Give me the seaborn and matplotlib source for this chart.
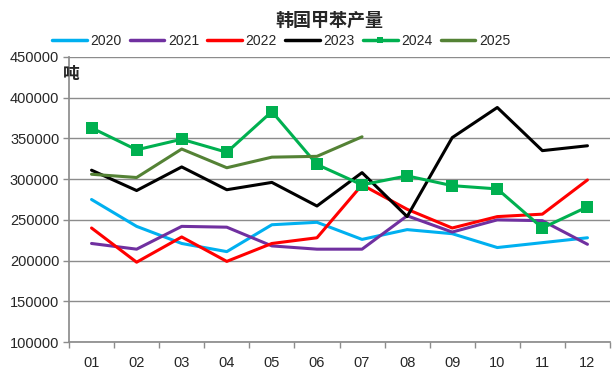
import pandas as pd
import matplotlib.pyplot as plt
import seaborn as sns
from matplotlib.lines import Line2D

months = ["01", "02", "03", "04", "05", "06", "07", "08", "09", "10", "11", "12"]
y2020 = [275000, 242000, 221000, 211000, 244000, 247000, 226000, 238000, 233000, 216000, 222000, 228000]
y2021 = [221000, 214000, 242000, 241000, 218000, 214000, 214000, 255000, 235000, 250000, 249000, 220000]
y2022 = [240000, 198000, 229000, 199000, 221000, 228000, 293000, 263000, 240000, 254000, 257000, 299000]
y2023 = [311000, 286000, 315000, 287000, 296000, 267000, 308000, 254000, 351000, 388000, 335000, 341000]
y2024 = [363000, 336000, 349000, 333000, 383000, 318000, 293000, 304000, 292000, 288000, 240000, 266000]
y2025 = [306000, 302000, 337000, 314000, 327000, 328000, 352000]

series = {"2020": y2020, "2021": y2021, "2022": y2022, "2023": y2023, "2024": y2024, "2025": y2025}
colors = {"2020": "#00B0F0", "2021": "#7030A0", "2022": "#FF0000",
          "2023": "#000000", "2024": "#00B050", "2025": "#548235"}

rows = []
for year, vals in series.items():
    for i, v in enumerate(vals):
        rows.append({"year": year, "pos": i, "value": v})
df = pd.DataFrame(rows)

sns.set_theme(style="white")
plt.rcParams['font.family'] = ['Liberation Sans', 'Noto Sans CJK SC', 'DejaVu Sans']

fig = plt.figure(figsize=(6.16, 3.8), dpi=100)
ax = fig.add_axes([69 / 616, 1 - 342 / 380, 541 / 616, 285 / 380])

for year in series:
    d = df[df["year"] == year]
    sns.lineplot(data=d, x="pos", y="value", ax=ax, color=colors[year], lw=2.2,
                 marker="s" if year == "2024" else None, markersize=8,
                 markeredgewidth=0, legend=False)

ax.set_xlim(-0.5, 11.5)
ax.set_ylim(100000, 450000)
ax.set_xticks(range(12))
ax.set_xticklabels(months)
ax.set_xticks([i - 0.5 for i in range(13)], minor=True)
ax.set_yticks(range(100000, 450001, 50000))
ax.yaxis.grid(True, color="#8c8c8c", lw=1)
ax.tick_params(axis="x", which="major", labelsize=10.5, length=0, pad=10)
ax.tick_params(axis="x", which="minor", length=4, width=1, color="#8c8c8c", direction="out")
ax.tick_params(axis="y", labelsize=10.5, length=4, width=1, color="#8c8c8c", pad=3, direction="out")
ax.tick_params(axis="y", left=True)
ax.tick_params(axis="x", which="minor", bottom=True)
for s in ["top", "right"]:
    ax.spines[s].set_visible(False)
ax.spines["left"].set_color("#8c8c8c")
ax.spines["bottom"].set_color("#8c8c8c")
ax.set_xlabel("")
ax.set_ylabel("")
fig.text(63 / 616, 1 - 74 / 380, "吨", fontsize=12, fontweight="bold",
         va="center", ha="left", family=["Noto Sans CJK SC"])

fig.text(0.535, 0.947, "韩国甲苯产量", ha="center", va="center", fontsize=13,
         fontweight="bold", family=["Noto Sans CJK SC"])

handles = [Line2D([], [], color=colors[y], lw=2.5,
                  marker="s" if y == "2024" else None, markersize=5, markeredgewidth=0)
           for y in series]
fig.legend(handles, list(series.keys()), loc="center", bbox_to_anchor=(281 / 616, 1 - 41 / 380),
           ncol=6, frameon=False, fontsize=10, handlelength=2.5, columnspacing=0.6,
           handletextpad=0.25)

plt.savefig("out.png", dpi=100)
